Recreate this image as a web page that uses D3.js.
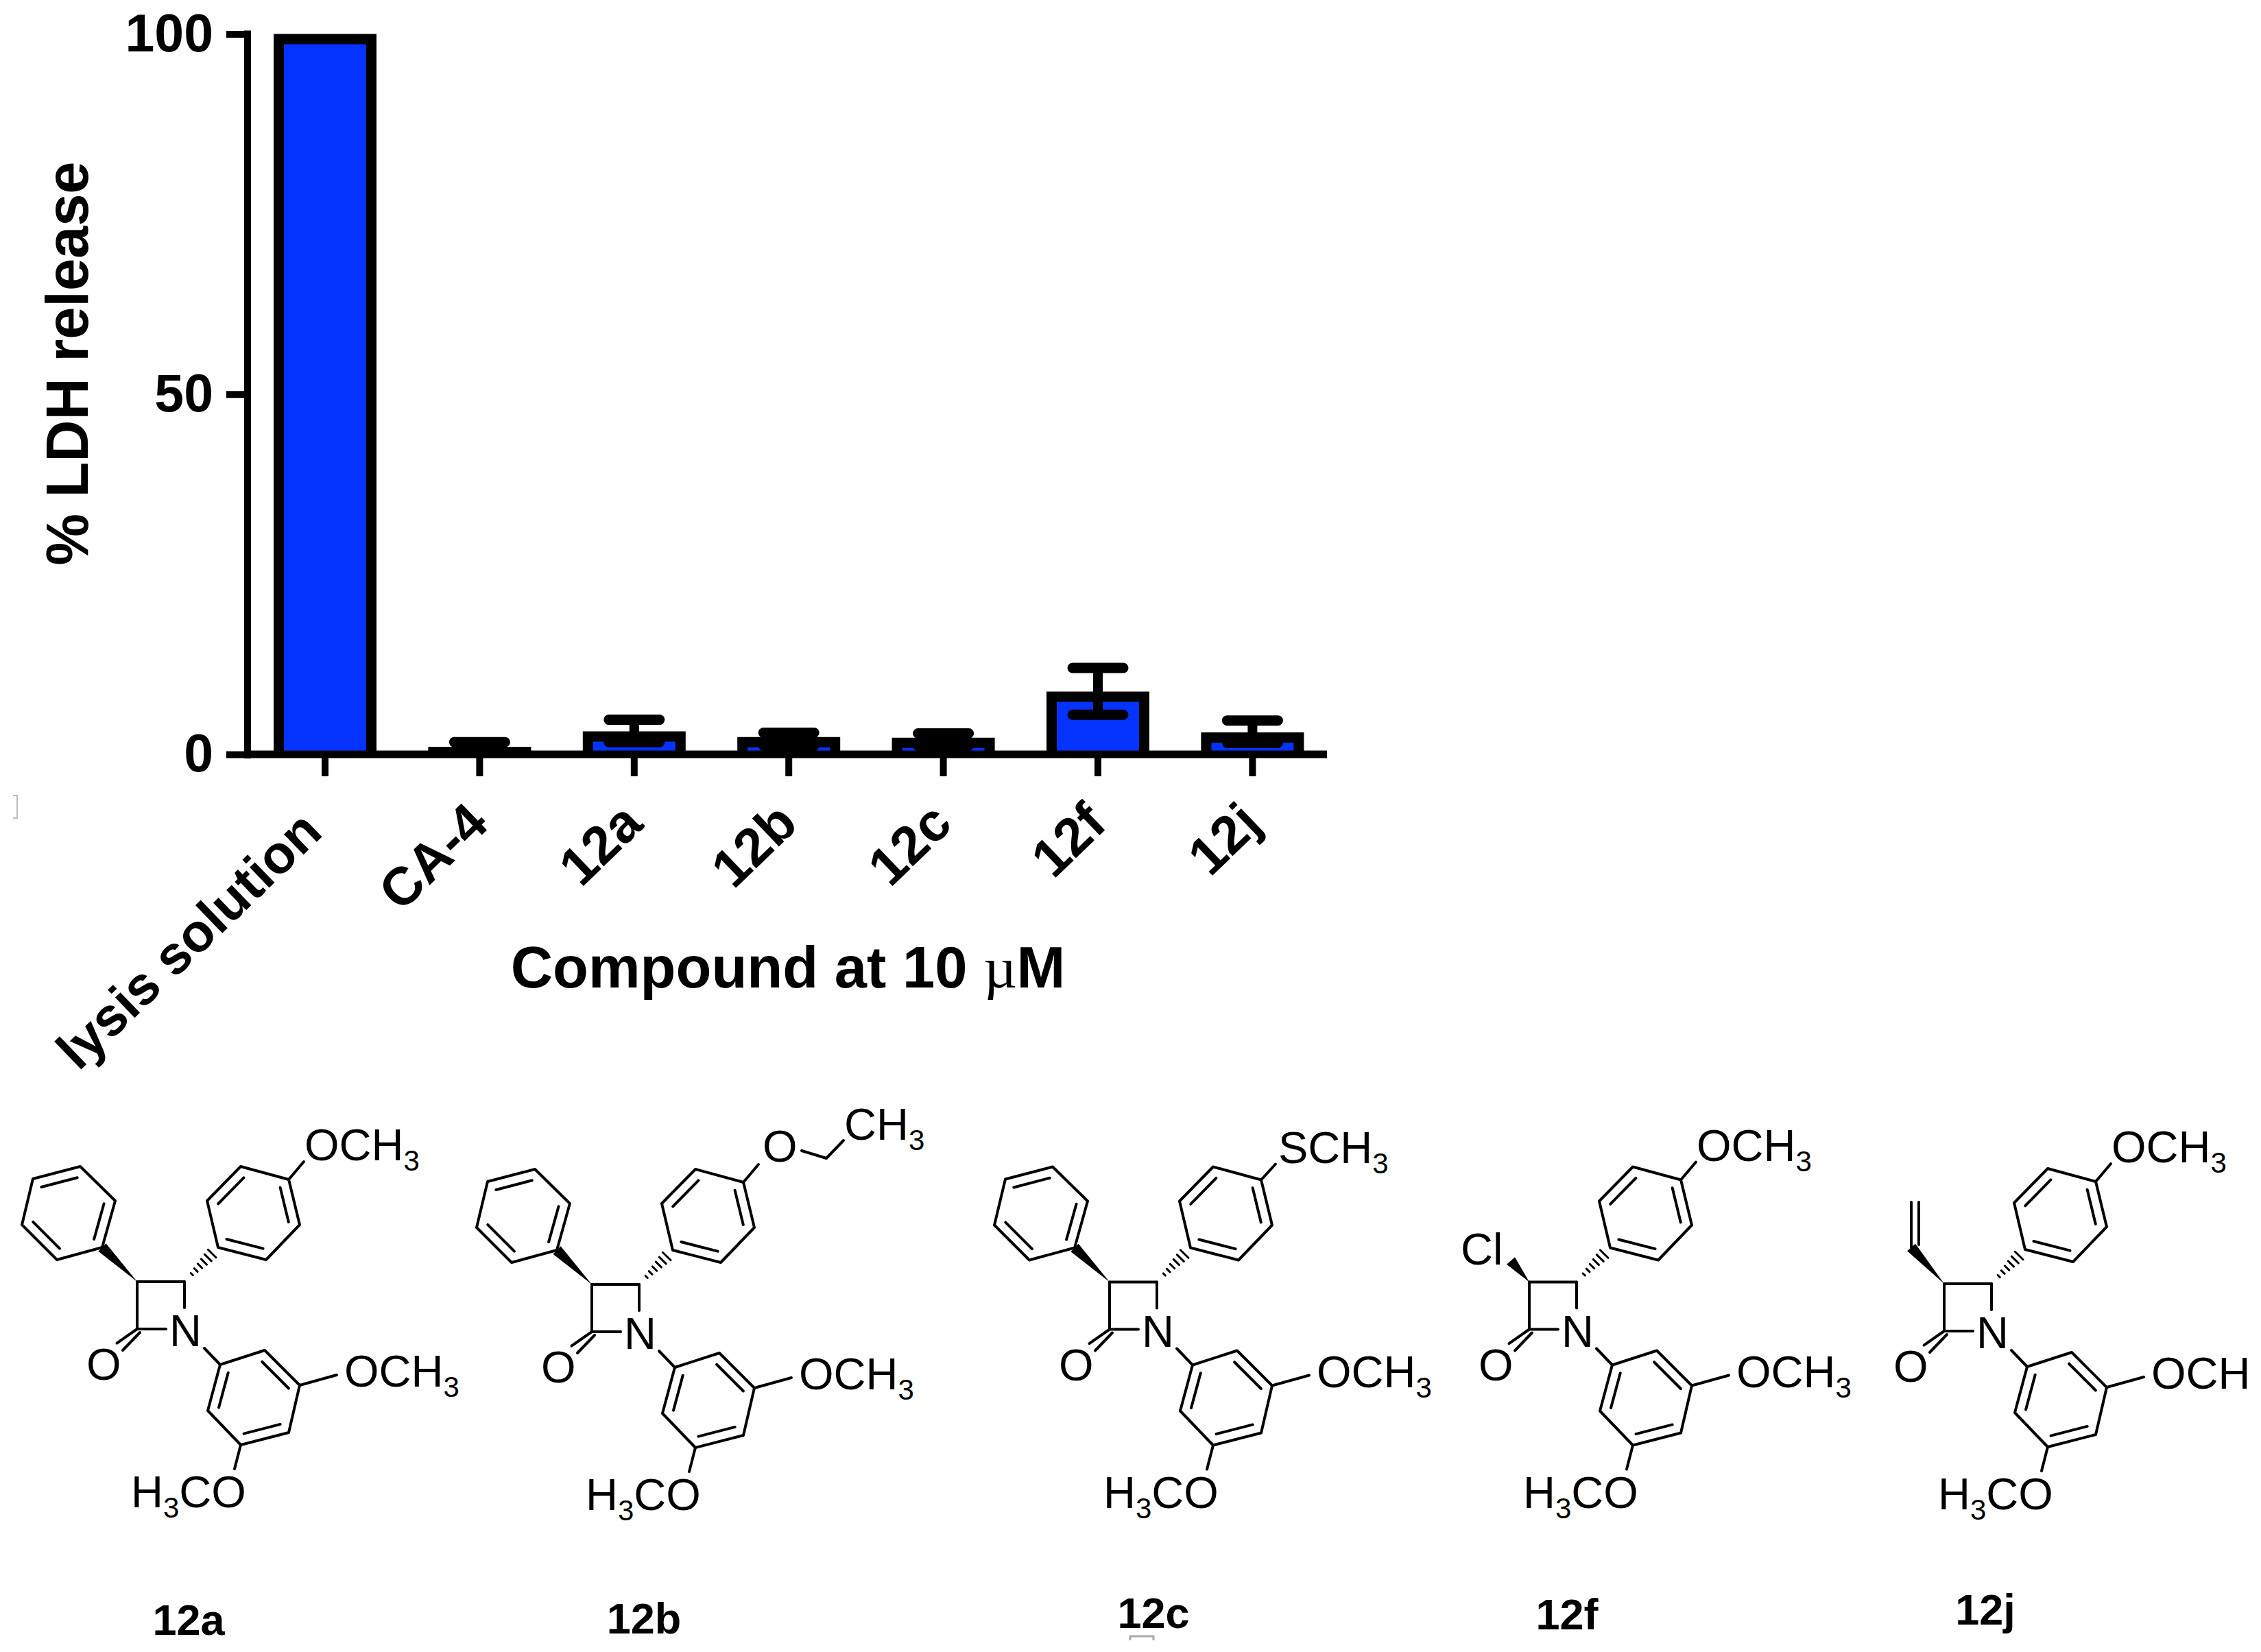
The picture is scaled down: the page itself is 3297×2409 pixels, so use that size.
<!DOCTYPE html>
<html><head><meta charset="utf-8">
<script src="https://cdn.jsdelivr.net/npm/d3@7"></script>
<style>html,body{margin:0;padding:0;background:#fff;overflow:hidden}svg{display:block}
text{font-family:"Liberation Sans",Arial,sans-serif;fill:#000}</style></head><body>
<script>
// ---- chart data ----
const categories = ["lysis solution","CA-4","12a","12b","12c","12f","12j"];
const means      = [100, 1.05, 3.2, 2.4, 2.3, 8.7, 3.05];
const errHigh    = [null, 1.7, 4.8, 3.0, 2.9, 12.0, 4.7];
const errLow     = [null, 0.4, 1.7, 1.2, 1.2, 5.5, 1.6];
const yTicks     = [0, 50, 100];
const yTitle = "% LDH release";

// ---- structure drawings ----
const compounds = [
 {name:"12a", n:[270,1940],  name_at:[275,2384], sub:"phenyl", para:"OCH3", meta:["OCH","3"]},
 {name:"12b", n:[933,1944],  name_at:[939,2382], sub:"phenyl", para:"OEt",  meta:["OCH","3"]},
 {name:"12c", n:[1688,1940.5],name_at:[1682,2374],sub:"phenyl", para:"SCH3", meta:["OCH","3"]},
 {name:"12f", n:[2300,1940.5],name_at:[2285,2376],sub:"Cl",     para:"OCH3", meta:["OCH","3"]},
 {name:"12j", n:[2905,1943], name_at:[2895,2369],sub:"vinyl",  para:"OCH3", meta:["OCH"]}
];
const C3=[-70,-71], C4=[-1,-71], C2=[-70,-2];
const coreBonds = [[C2,C3],[C3,C4],[C4,[-1,-33]],[C2,[-28,-2]],[C2,[-99.5,18.6]],[[-66,3],[-91,29]],[[28,26],[51,50]]];
const upperRing = [[151,-220],[81,-239],[32,-189],[48,-121],[118,-103],[167,-154]];
const upperDouble = [[0,5],[1,2],[3,4]];
const lowerRing = [[51,50],[116,29],[167,80],[151,149],[81,167],[33,117]];
const lowerDouble = [[1,2],[3,4],[5,0]];
const phenylRing = [[-121,-121],[-102,-189],[-153,-239],[-222,-221],[-238,-154],[-187,-103]];
const phenylDouble = [[0,1],[2,3],[4,5]];
const ringBonds = [[[167,80],[221,65]],[[81,167],[72,202]]];

const width=3297,height=2409;
const svg=d3.select("body").append("svg").attr("width",width).attr("height",height).attr("viewBox",`0 0 ${width} ${height}`);
svg.append("rect").attr("width",width).attr("height",height).attr("fill","#fff");

// ---- scales ----
const x=d3.scaleBand().domain(categories).range([399,1901.4]).paddingInner(0.3345).paddingOuter(0);
const y=d3.scaleLinear().domain([0,100]).range([1100,49.5]);
const blue="#0433ff";
const barStroke=15;
const cx=d=>x(d)+x.bandwidth()/2;
const chart=svg.append("g");

// bars: outer edge of the stroke sits on the value, open at the baseline
chart.selectAll("path.bar").data(categories).join("path").attr("class","bar")
 .attr("d",(d,i)=>{
   const l=x(d)+barStroke/2,r=x(d)+x.bandwidth()-barStroke/2,t=y(means[i])+barStroke/2;
   return `M${l},${y(0)}V${t}H${r}V${y(0)}`;
 })
 .attr("fill",blue).attr("stroke","#000").attr("stroke-width",barStroke);

// error bars
const errIdx=categories.map((d,i)=>i).filter(i=>errHigh[i]!==null);
chart.selectAll("line.stem").data(errIdx).join("line").attr("class","stem")
 .attr("x1",i=>cx(categories[i])).attr("x2",i=>cx(categories[i]))
 .attr("y1",i=>y(errLow[i])).attr("y2",i=>y(errHigh[i]))
 .attr("stroke","#000").attr("stroke-width",14);
[errHigh,errLow].forEach(arr=>{
 chart.append("g").selectAll("line").data(errIdx).join("line")
  .attr("x1",i=>cx(categories[i])-37).attr("x2",i=>cx(categories[i])+37)
  .attr("y1",i=>y(arr[i])).attr("y2",i=>y(arr[i]))
  .attr("stroke","#000").attr("stroke-width",15).attr("stroke-linecap","round");
});

// y axis
const yAxis=chart.append("g").attr("transform","translate(361,0)")
 .call(d3.axisLeft(y).tickValues(yTicks).tickSize(31).tickPadding(19).tickSizeOuter(0));
yAxis.select(".domain").attr("stroke","#000").attr("stroke-width",10).attr("d",`M0,${y(100)-5}V${y(0)+6}`);
yAxis.selectAll(".tick line").attr("stroke","#000").attr("stroke-width",10);
yAxis.selectAll(".tick text").attr("font-size",77).attr("font-weight","bold").attr("font-family",'"Liberation Sans"').attr("fill","#000");

// x axis
const xAxis=chart.append("g").attr("transform",`translate(0,${y(0)})`)
 .call(d3.axisBottom(x).tickSize(32).tickSizeOuter(0));
xAxis.select(".domain").attr("stroke","#000").attr("stroke-width",11).attr("d","M356,0H1935");
xAxis.selectAll(".tick line").attr("stroke","#000").attr("stroke-width",10);
xAxis.selectAll(".tick text")
 .attr("font-size",78).attr("font-weight","bold").attr("font-family",'"Liberation Sans"').attr("fill","#000")
 .attr("text-anchor","end").attr("dy",0).attr("y",0)
 .attr("transform",(d,i)=>i===0?"translate(-1,117) rotate(-44)":"translate(16,105) rotate(-44)");

// titles
svg.append("text").attr("transform","translate(128,530) rotate(-90)").attr("text-anchor","middle")
 .attr("font-size",87).attr("textLength",589).attr("lengthAdjust","spacingAndGlyphs").attr("font-weight","bold").text(yTitle);
const xt=svg.append("text").attr("x",1149).attr("y",1440).attr("text-anchor","middle").attr("font-size",85).attr("font-weight","bold");
xt.append("tspan").text("Compound at 10 ");
xt.append("tspan").attr("font-weight","normal").attr("font-family",'"Liberation Serif","DejaVu Serif"').attr("font-size",84).text("\u00b5");
xt.append("tspan").text("M");

// faint scan marks in the source image
svg.append("path").attr("d","M19,1160H25V1193H19").attr("fill","none").attr("stroke","#bbb").attr("stroke-width",2);
svg.append("path").attr("d","M1648,2392V2386H1682V2392").attr("fill","none").attr("stroke","#aaa").attr("stroke-width",3);

// ---- molecules ----
function ring(g,pts,dbl){
 const c=[d3.mean(pts,p=>p[0]),d3.mean(pts,p=>p[1])];
 g.append("path").attr("d",d3.line().curve(d3.curveLinearClosed)(pts));
 const inner=p=>[c[0]+(p[0]-c[0])*0.76,c[1]+(p[1]-c[1])*0.76];
 dbl.forEach(([a,b])=>bond(g,inner(pts[a]),inner(pts[b])));
}
function bond(g,a,b){g.append("path").attr("d",d3.line()([a,b]));}
function label(g,px,py,parts){
 const t=g.append("text").attr("x",px).attr("y",py).attr("font-size",65).attr("stroke","none");
 let sub=false;
 parts.forEach(s=>{
  const isSub=/^\d$/.test(s);
  const ts=t.append("tspan").text(s);
  if(isSub){ts.attr("font-size",42).attr("dy",15);sub=true;}
  else if(sub){ts.attr("dy",-15);sub=false;}
 });
}
function wedge(g,a,b,w){
 const dx=b[0]-a[0],dy=b[1]-a[1],l=Math.hypot(dx,dy),nx=-dy/l*w,ny=dx/l*w;
 g.append("path").attr("d",d3.line()([a,[b[0]+nx,b[1]+ny],[b[0]-nx,b[1]-ny]])+"Z").attr("fill","#000").attr("stroke","none");
}
function hash(g,a,b,w,n){
 const dx=b[0]-a[0],dy=b[1]-a[1],l=Math.hypot(dx,dy),ux=-dy/l,uy=dx/l;
 d3.range(n).forEach(k=>{
  const t=0.22+k/(n-1)*0.6,h=w*t;
  const p=[a[0]+dx*t,a[1]+dy*t];
  g.append("path").attr("stroke-width",3).attr("d",d3.line()([[p[0]-ux*h,p[1]-uy*h],[p[0]+ux*h,p[1]+uy*h]]));
 });
}
compounds.forEach(m=>{
 const g=svg.append("g").attr("transform",`translate(${m.n[0]},${m.n[1]})`)
  .attr("fill","none").attr("stroke","#000").attr("stroke-width",4).attr("stroke-linejoin","round").attr("stroke-linecap","round");
 coreBonds.forEach(b=>bond(g,b[0],b[1]));
 ringBonds.forEach(b=>bond(g,b[0],b[1]));
 ring(g,upperRing,upperDouble);
 ring(g,lowerRing,lowerDouble);
 hash(g,C4,upperRing[3],10,6);
 label(g,-23,23,["N"]);
 label(g,-144,72,["O"]);
 label(g,232,82,m.meta);
 label(g,-79,258,["H","3","CO"]);
 if(m.sub==="phenyl"){
  ring(g,phenylRing,phenylDouble);
  wedge(g,C3,phenylRing[0],8);
 } else if(m.sub==="Cl"){
  wedge(g,C3,[-97,-102],8);
  label(g,-170,-97,["Cl"]);
 } else if(m.sub==="vinyl"){
  wedge(g,C3,[-118,-124],8);
  bond(g,[-118,-124],[-118,-190]);
  bond(g,[-107,-128],[-107,-190]);
 }
 if(m.para==="OEt"){
  bond(g,upperRing[0],[173,-246]);
  label(g,179,-250,["O"]);
  bond(g,[236,-266],[272,-255]);bond(g,[272,-255],[297,-281]);
  label(g,298,-282,["CH","3"]);
 } else if(m.para==="SCH3"){
  bond(g,upperRing[0],[172,-243]);
  label(g,176,-245,["SCH","3"]);
 } else {
  bond(g,upperRing[0],[173,-246]);
  label(g,174,-248,["OCH","3"]);
 }
 svg.append("text").attr("x",m.name_at[0]).attr("y",m.name_at[1]).attr("text-anchor","middle")
  .attr("font-size",63).attr("font-weight","bold").text(m.name);
});
</script></body></html>
